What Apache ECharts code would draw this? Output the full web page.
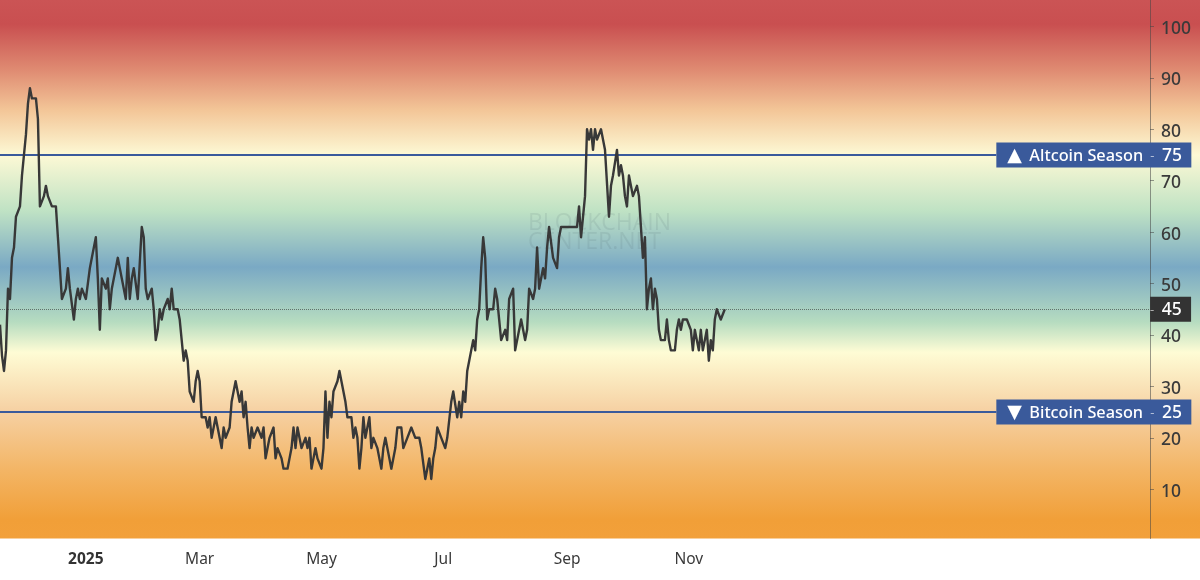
<!DOCTYPE html>
<html>
<head>
<meta charset="utf-8">
<title>Altcoin Season Index</title>
<script src="https://cdn.jsdelivr.net/npm/echarts@6/dist/echarts.min.js"></script>
<style>
  html, body { margin: 0; padding: 0; background: #fff; }
  #main { width: 1200px; height: 580px; }
</style>
</head>
<body>
<div id="main"></div>
<script>
// daily index values, first point 2024-11-21
var startDate = '2024-11-21';
var indexValues = [
  42, 36, 33, 37, 49, 47, 55, 57, 63, 63, 65, 71, 71, 79, 85, 88, 86, 86, 86, 82,
  65, 65, 67, 69, 67, 67, 65, 65, 65, 59, 53, 47, 47, 49, 53, 49, 49, 43, 47, 49,
  47, 49, 49, 47, 47, 53, 55, 55, 59, 51, 41, 51, 51, 49, 51, 45, 49, 49, 53, 55,
  53, 51, 51, 47, 55, 47, 51, 53, 53, 47, 47, 61, 59, 49, 47, 47, 49, 45, 39, 41,
  45, 43, 45, 45, 47, 45, 49, 45, 45, 45, 43, 39, 35, 37, 35, 29, 29, 27, 31, 33,
  31, 24, 24, 24, 22, 24, 20, 22, 24, 22, 20, 18, 22, 20, 20, 22, 27, 29, 31, 31,
  27, 29, 24, 27, 22, 18, 22, 20, 20, 22, 22, 20, 22, 16, 18, 20, 20, 22, 16, 18,
  18, 16, 14, 14, 14, 16, 18, 22, 18, 22, 20, 18, 18, 20, 18, 20, 14, 16, 18, 16,
  16, 14, 18, 29, 20, 27, 24, 29, 29, 31, 33, 31, 31, 27, 24, 24, 24, 20, 22, 20,
  14, 18, 24, 20, 20, 24, 18, 20, 20, 18, 16, 14, 18, 20, 20, 16, 14, 16, 18, 22,
  22, 22, 18, 18, 20, 20, 22, 22, 20, 20, 20, 18, 18, 12, 14, 16, 12, 16, 18, 22,
  22, 20, 20, 18, 20, 20, 27, 29, 29, 24, 27, 24, 29, 27, 33, 35, 37, 39, 37, 43,
  45, 53, 59, 55, 43, 45, 45, 45, 49, 47, 43, 39, 39, 41, 39, 47, 47, 49, 37, 39,
  41, 43, 43, 39, 41, 49, 49, 47, 49, 57, 49, 51, 53, 51, 57, 61, 61, 55, 55, 53,
  59, 61, 61, 61, 61, 61, 61, 61, 61, 61, 65, 59, 59, 67, 80, 78, 80, 76, 80, 78,
  78, 80, 80, 76, 76, 63, 69, 71, 71, 76, 71, 73, 71, 67, 65, 71, 71, 67, 67, 69,
  67, 67, 55, 59, 45, 49, 51, 45, 49, 47, 41, 39, 39, 39, 43, 39, 37, 37, 37, 41,
  43, 41, 43, 43, 43, 43, 41, 37, 41, 39, 37, 41, 37, 39, 41, 35, 39, 37, 43, 45,
  45, 43, 43, 45
];
var yTicks = [10, 20, 30, 40, 50, 60, 70, 80, 90, 100];
// x axis labels: date -> text
var monthTicks = {
  '2025-01-03': '2025',
  '2025-03-01': 'Mar',
  '2025-05-01': 'May',
  '2025-07-01': 'Jul',
  '2025-09-01': 'Sep',
  '2025-11-01': 'Nov'
};
var altcoinLevel = 75;
var bitcoinLevel = 25;
var currentLevel = 45;
var axisDays = 602;

var dates = [];
var t = Date.parse(startDate + 'T00:00:00Z');
for (var i = 0; i < axisDays; i++) {
  dates.push(new Date(t + i * 86400000).toISOString().slice(0, 10));
}

// background bands, top of the plot to the bottom
var bandStops = [
  { offset: 0, color: '#cb5455' },
  { offset: 0.045, color: '#c94f50' },
  { offset: 0.13, color: '#df8b72' },
  { offset: 0.205, color: '#f3c698' },
  { offset: 0.288, color: '#fdf9d5' },
  { offset: 0.392, color: '#bfe2c4' },
  { offset: 0.496, color: '#7aa9c4' },
  { offset: 0.598, color: '#b6dcc0' },
  { offset: 0.654, color: '#fefcd5' },
  { offset: 0.765, color: '#f6d0a2' },
  { offset: 0.873, color: '#f3b565' },
  { offset: 0.966, color: '#f19f38' },
  { offset: 1, color: '#f2a03a' }
];

var labelFont = '"Noto Sans", sans-serif';

function tagRich() {
  return {
    tri: { width: 22, height: 25, lineHeight: 25, padding: [2, 0, 0, 0], fontSize: 19, color: '#fff', fontFamily: '"DejaVu Sans"' },
    name: { width: 121, height: 25, lineHeight: 25, padding: [2, 0, 0, 0], fontSize: 16.3, fontWeight: 500, color: '#fff', fontFamily: labelFont },
    dash: { width: 11.7, height: 25, lineHeight: 25, padding: [2, 0, 0, 0], fontSize: 13, color: 'rgba(255,255,255,0.6)', fontFamily: labelFont },
    val: { width: 29.3, height: 25, lineHeight: 25, padding: [2, 0, 0, 0], fontSize: 17.5, fontWeight: 500, color: '#fff', fontFamily: labelFont }
  };
}

function levelLine(level, endDay, lineColor, tagColor, type, text) {
  return [
    { coord: [dates[0], level], lineStyle: { color: lineColor, width: type === 'solid' ? 1.8 : 1, type: type },
      label: { show: true, position: 'end', distance: 0, formatter: text, backgroundColor: tagColor,
        padding: text.indexOf('tri') >= 0 ? [0, 0, 0, 11] : 0, rich: tagRich() } },
    { coord: [dates[endDay], level] }
  ];
}

var myChart = echarts.init(document.getElementById('main'));
myChart.setOption({
  animation: false,
  backgroundColor: '#ffffff',
  grid: {
    left: 0, right: 0, top: 0, bottom: 41.5,
    show: true,
    borderWidth: 0,
    backgroundColor: new echarts.graphic.LinearGradient(0, 0, 0, 1, bandStops)
  },
  graphic: [
    { type: 'text', left: 528, top: 212, z: 1, silent: true,
      style: { text: 'BLOCKCHAIN', fill: 'rgba(60,75,85,0.10)', font: '500 23px "Open Sans"' } },
    { type: 'text', left: 528, top: 231, z: 1, silent: true,
      style: { text: 'CENTER.NET', fill: 'rgba(60,75,85,0.10)', font: '500 23px "Open Sans"' } }
  ],
  xAxis: {
    type: 'category',
    data: dates,
    boundaryGap: false,
    axisLine: { show: false },
    axisTick: { show: false },
    splitLine: { show: false },
    axisLabel: {
      margin: 13,
      hideOverlap: false,
      interval: function (index, value) { return monthTicks[value] !== undefined; },
      formatter: function (value) {
        var text = monthTicks[value];
        return text === '2025' ? '{year|' + text + '}' : text;
      },
      color: '#3a3a3a',
      fontSize: 15.5,
      fontFamily: labelFont,
      rich: { year: { fontWeight: 'bold', fontSize: 15.5, color: '#333', fontFamily: labelFont } }
    }
  },
  yAxis: {
    type: 'value',
    position: 'right',
    offset: -50,
    min: 0.42,
    max: 105.14,
    splitLine: { show: false },
    axisLine: { show: true, lineStyle: { color: 'rgba(70,70,70,0.55)', width: 1 } },
    axisTick: { show: true, length: 4, customValues: yTicks, lineStyle: { color: 'rgba(70,70,70,0.55)' } },
    axisLabel: {
      customValues: yTicks,
      margin: 11,
      formatter: function (value) { return '{n|' + value + '}'; },
      rich: {
        n: { padding: [5, 0, 0, 0], color: '#3a3a3a', fontSize: 17.5, fontWeight: 500, fontFamily: labelFont }
      }
    }
  },
  series: [
    {
      name: 'Altcoin Season Index',
      type: 'line',
      data: indexValues,
      showSymbol: false,
      z: 5,
      clip: true,
      lineStyle: { color: '#383838', width: 2.4, join: 'round' },
      markLine: {
        silent: true,
        symbol: 'none',
        precision: 0,
        data: [
          levelLine(altcoinLevel, 499, '#3a5a9b', '#3a5a9b', 'solid', '{tri|▲}{name|Altcoin Season}{dash|-}{val|' + altcoinLevel + '}'),
          levelLine(bitcoinLevel, 499, '#3a5a9b', '#3a5a9b', 'solid', '{tri|▼}{name|Bitcoin Season}{dash|-}{val|' + bitcoinLevel + '}'),
          levelLine(currentLevel, 576, 'rgba(50,50,50,0.6)', '#333333', 'dotted', '{dash|-}{val|' + currentLevel + '}')
        ]
      }
    }
  ]
});
</script>
</body>
</html>
